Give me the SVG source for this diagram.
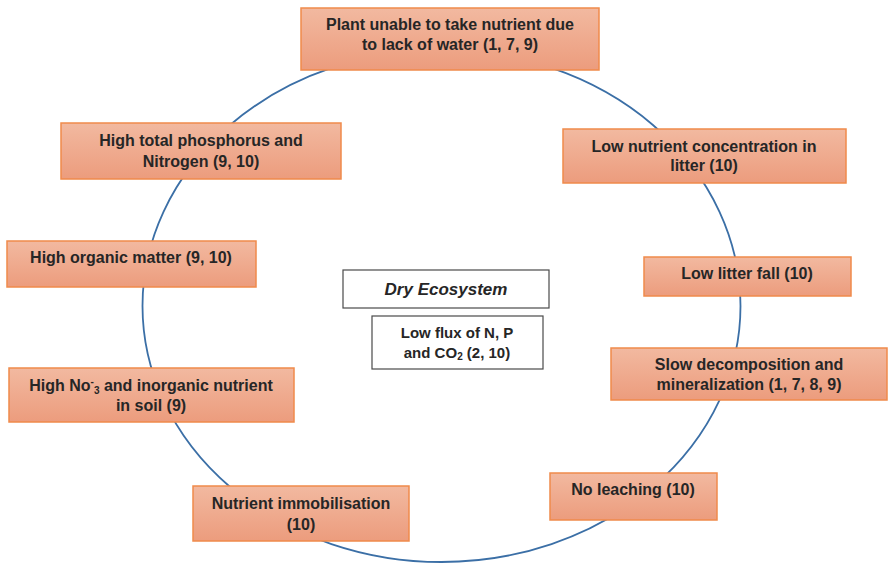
<svg xmlns="http://www.w3.org/2000/svg" width="889" height="564" viewBox="0 0 889 564">
<style>
.box{fill:url(#g);stroke:#f08a4b;stroke-width:1.5}
.t{font-family:"Liberation Sans",Arial,sans-serif;font-weight:bold;font-size:16px;fill:#262626;text-anchor:middle}
.c{fill:#fff;stroke:#4a4a4a;stroke-width:1.2}
.i{font-size:17px;font-style:italic}
.s{font-size:15px}
.sm{font-size:10px}
</style>
<defs>
<linearGradient id="g" x1="0" y1="0" x2="0" y2="1">
<stop offset="0" stop-color="#f2b9a0"/>
<stop offset="1" stop-color="#ec9c7d"/>
</linearGradient>
</defs>
<rect width="889" height="564" fill="#fff"/>
<g id="connectors">
<ellipse cx="441.5" cy="306" rx="299" ry="256" fill="none" stroke="#3b6fa6" stroke-width="1.8"/>
</g>
<g id="n1"><rect class="box" x="301" y="8" width="298" height="62"/>
<text class="t" x="450" y="30">Plant unable to take nutrient due</text>
<text class="t" x="450" y="50">to lack of water (1, 7, 9)</text></g>
<g id="n2"><rect class="box" x="563" y="129" width="283" height="54"/>
<text class="t" x="704" y="152">Low nutrient concentration in</text>
<text class="t" x="704" y="171">litter (10)</text></g>
<g id="n3"><rect class="box" x="644" y="257" width="207" height="39"/>
<text class="t" x="747" y="279">Low litter fall (10)</text></g>
<g id="n4"><rect class="box" x="611" y="348" width="276" height="52"/>
<text class="t" x="749" y="370">Slow decomposition and</text>
<text class="t" x="749" y="390">mineralization (1, 7, 8, 9)</text></g>
<g id="n5"><rect class="box" x="550" y="473" width="167" height="47"/>
<text class="t" x="633" y="495">No leaching (10)</text></g>
<g id="n6"><rect class="box" x="193" y="486" width="216" height="55"/>
<text class="t" x="301" y="509">Nutrient immobilisation</text>
<text class="t" x="301" y="530">(10)</text></g>
<g id="n7"><rect class="box" x="9" y="368" width="285" height="54"/>
<text class="t" x="151" y="391">High No<tspan class="sm" dy="-6">-</tspan><tspan class="sm" dy="9">3</tspan><tspan dy="-3"> and inorganic nutrient</tspan></text>
<text class="t" x="151" y="411">in soil (9)</text></g>
<g id="n8"><rect class="box" x="7" y="241" width="249" height="46"/>
<text class="t" x="131" y="263">High organic matter (9, 10)</text></g>
<g id="n9"><rect class="box" x="61" y="123" width="280" height="56"/>
<text class="t" x="201" y="146">High total phosphorus and</text>
<text class="t" x="201" y="167">Nitrogen (9, 10)</text></g>
<g id="center1"><rect class="c" x="343" y="270" width="206" height="38"/>
<text class="t i" x="446" y="295">Dry Ecosystem</text></g>
<g id="center2"><rect class="c" x="372" y="316" width="171" height="53"/>
<text class="t s" x="457" y="338">Low flux of N, P</text>
<text class="t s" x="457" y="358">and CO<tspan class="sm" dy="2">2</tspan><tspan dy="-2"> (2, 10)</tspan></text></g>
</svg>
